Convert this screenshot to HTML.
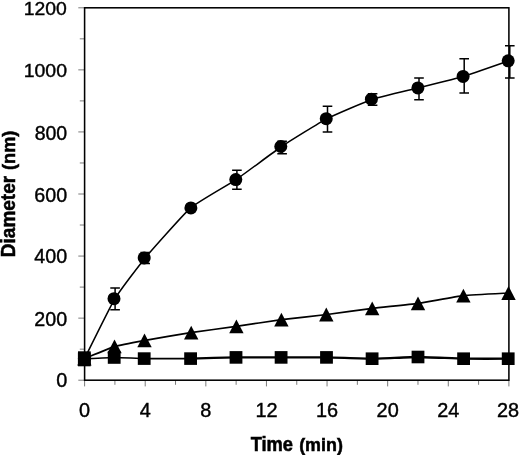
<!DOCTYPE html>
<html><head><meta charset="utf-8"><title>Chart</title>
<style>html,body{margin:0;padding:0;background:#fff}svg{display:block}</style></head>
<body>
<svg width="520" height="455" viewBox="0 0 520 455">
<rect width="520" height="455" fill="#fff"/>
<g stroke="#000" fill="none">
<g stroke-width="0.65" stroke="#333">
<line x1="78.30" y1="380.20" x2="84.60" y2="380.20"/>
<line x1="79.80" y1="349.17" x2="84.60" y2="349.17"/>
<line x1="78.30" y1="318.13" x2="84.60" y2="318.13"/>
<line x1="79.80" y1="287.10" x2="84.60" y2="287.10"/>
<line x1="78.30" y1="256.07" x2="84.60" y2="256.07"/>
<line x1="79.80" y1="225.03" x2="84.60" y2="225.03"/>
<line x1="78.30" y1="194.00" x2="84.60" y2="194.00"/>
<line x1="79.80" y1="162.97" x2="84.60" y2="162.97"/>
<line x1="78.30" y1="131.93" x2="84.60" y2="131.93"/>
<line x1="79.80" y1="100.90" x2="84.60" y2="100.90"/>
<line x1="78.30" y1="69.87" x2="84.60" y2="69.87"/>
<line x1="79.80" y1="38.83" x2="84.60" y2="38.83"/>
<line x1="78.30" y1="7.80" x2="84.60" y2="7.80"/>
<line x1="84.60" y1="380.20" x2="84.60" y2="386.40"/>
<line x1="114.91" y1="380.20" x2="114.91" y2="384.80"/>
<line x1="145.21" y1="380.20" x2="145.21" y2="386.40"/>
<line x1="175.52" y1="380.20" x2="175.52" y2="384.80"/>
<line x1="205.83" y1="380.20" x2="205.83" y2="386.40"/>
<line x1="236.14" y1="380.20" x2="236.14" y2="384.80"/>
<line x1="266.44" y1="380.20" x2="266.44" y2="386.40"/>
<line x1="296.75" y1="380.20" x2="296.75" y2="384.80"/>
<line x1="327.06" y1="380.20" x2="327.06" y2="386.40"/>
<line x1="357.36" y1="380.20" x2="357.36" y2="384.80"/>
<line x1="387.67" y1="380.20" x2="387.67" y2="386.40"/>
<line x1="417.98" y1="380.20" x2="417.98" y2="384.80"/>
<line x1="448.29" y1="380.20" x2="448.29" y2="386.40"/>
<line x1="478.59" y1="380.20" x2="478.59" y2="384.80"/>
<line x1="508.90" y1="380.20" x2="508.90" y2="386.40"/>
</g>
<rect x="84.60" y="7.80" width="424.30" height="372.40" stroke-width="1.55"/>
<path d="M84.60 358.60 C86.82 354.21 110.46 306.08 114.91 298.70 C119.35 291.32 139.66 264.56 145.21 257.90 C150.77 251.24 184.01 213.64 190.67 207.90 C197.34 202.16 229.47 184.10 236.14 179.60 C242.80 175.10 274.93 150.97 281.60 146.50 C288.26 142.03 320.39 122.12 327.06 118.65 C333.72 115.18 365.85 101.45 372.52 99.20 C379.19 96.95 411.31 89.57 417.98 87.90 C424.65 86.23 456.77 78.39 463.44 76.40 C470.11 74.41 505.57 61.94 508.90 60.80" stroke-width="1.55"/>
<path d="M84.60 358.60 C86.82 357.71 110.46 347.73 114.91 346.40 C119.35 345.07 139.66 341.41 145.21 340.40 C150.77 339.39 184.01 333.63 190.67 332.60 C197.34 331.57 229.47 327.35 236.14 326.40 C242.80 325.45 274.93 320.47 281.60 319.60 C288.26 318.73 320.39 315.33 327.06 314.50 C333.72 313.67 365.85 309.11 372.52 308.30 C379.19 307.49 411.31 304.33 417.98 303.40 C424.65 302.47 456.77 296.36 463.44 295.60 C470.11 294.84 505.57 293.19 508.90 293.00" stroke-width="1.7"/>
<path d="M84.60 358.80 C86.82 358.70 110.46 357.51 114.91 357.50 C119.35 357.49 139.66 358.52 145.21 358.60 C150.77 358.68 187.34 358.60 190.67 358.60" stroke-width="1.6"/>
<path d="M190.67 358.60 C194.01 358.51 229.47 357.49 236.14 357.40 C242.80 357.31 274.93 357.40 281.60 357.40 C288.26 357.40 320.39 357.30 327.06 357.40 C333.72 357.50 365.85 358.73 372.52 358.70 C379.19 358.67 411.31 357.00 417.98 357.00 C424.65 357.00 456.77 358.58 463.44 358.70 C470.11 358.82 505.57 358.70 508.90 358.70" stroke-width="2.3"/>
<g stroke-width="1.5">
<path d="M115.10 288.10 V309.80 M110.30 288.10 H119.90 M110.30 309.80 H119.90"/>
<path d="M145.20 252.40 V263.60 M140.40 252.40 H150.00 M140.40 263.60 H150.00"/>
<path d="M236.90 170.20 V189.20 M232.10 170.20 H241.70 M232.10 189.20 H241.70"/>
<path d="M282.10 141.20 V153.80 M277.30 141.20 H286.90 M277.30 153.80 H286.90"/>
<path d="M327.50 106.20 V132.10 M322.70 106.20 H332.30 M322.70 132.10 H332.30"/>
<path d="M372.60 93.70 V105.20 M367.80 93.70 H377.40 M367.80 105.20 H377.40"/>
<path d="M419.00 78.00 V99.70 M414.20 78.00 H423.80 M414.20 99.70 H423.80"/>
<path d="M464.20 58.80 V93.00 M459.40 58.80 H469.00 M459.40 93.00 H469.00"/>
<path d="M509.80 45.70 V78.00 M505.00 45.70 H514.60 M505.00 78.00 H514.60"/>
</g>
</g>
<g fill="#000">
<circle cx="84.40" cy="358.60" r="6.5"/>
<circle cx="114.00" cy="298.70" r="6.5"/>
<circle cx="144.20" cy="257.90" r="6.5"/>
<circle cx="190.90" cy="207.90" r="6.5"/>
<circle cx="235.80" cy="179.60" r="6.5"/>
<circle cx="280.80" cy="146.50" r="6.5"/>
<circle cx="326.25" cy="118.65" r="6.5"/>
<circle cx="371.40" cy="99.20" r="6.5"/>
<circle cx="417.90" cy="87.90" r="6.5"/>
<circle cx="463.10" cy="76.40" r="6.5"/>
<circle cx="508.20" cy="60.80" r="6.5"/>
<path d="M84.40 351.70 L91.60 365.50 L77.20 365.50 Z"/>
<path d="M114.50 339.50 L121.70 353.30 L107.30 353.30 Z"/>
<path d="M144.50 333.50 L151.70 347.30 L137.30 347.30 Z"/>
<path d="M191.20 325.70 L198.40 339.50 L184.00 339.50 Z"/>
<path d="M236.40 319.50 L243.60 333.30 L229.20 333.30 Z"/>
<path d="M281.40 312.70 L288.60 326.50 L274.20 326.50 Z"/>
<path d="M326.30 307.60 L333.50 321.40 L319.10 321.40 Z"/>
<path d="M372.20 301.40 L379.40 315.20 L365.00 315.20 Z"/>
<path d="M418.00 296.50 L425.20 310.30 L410.80 310.30 Z"/>
<path d="M463.40 288.70 L470.60 302.50 L456.20 302.50 Z"/>
<path d="M508.50 286.10 L515.70 299.90 L501.30 299.90 Z"/>
<rect x="77.90" y="352.50" width="12.8" height="12.6"/>
<rect x="107.80" y="351.20" width="12.8" height="12.6"/>
<rect x="137.80" y="352.30" width="12.8" height="12.6"/>
<rect x="184.20" y="352.30" width="12.8" height="12.6"/>
<rect x="229.60" y="351.10" width="12.8" height="12.6"/>
<rect x="274.70" y="351.10" width="12.8" height="12.6"/>
<rect x="320.10" y="351.10" width="12.8" height="12.6"/>
<rect x="365.70" y="352.40" width="12.8" height="12.6"/>
<rect x="411.60" y="350.70" width="12.8" height="12.6"/>
<rect x="457.20" y="352.40" width="12.8" height="12.6"/>
<rect x="501.80" y="352.40" width="12.8" height="12.6"/>
<rect x="78.0" y="351.3" width="12.7" height="15.0"/>
</g>
<g font-family="'Liberation Sans', Arial, sans-serif" fill="#000" stroke="#000" stroke-width="0.4">
<text transform="translate(67.30,387.10) scale(1.020,1)" font-size="19.5" text-anchor="end">0</text>
<text transform="translate(67.20,325.83) scale(1.010,1)" font-size="19.5" text-anchor="end">200</text>
<text transform="translate(67.20,262.97) scale(1.010,1)" font-size="19.5" text-anchor="end">400</text>
<text transform="translate(67.20,202.20) scale(1.010,1)" font-size="19.5" text-anchor="end">600</text>
<text transform="translate(67.20,140.23) scale(1.000,1)" font-size="19.5" text-anchor="end">800</text>
<text transform="translate(67.00,77.17) scale(1.035,1)" font-size="18.8" text-anchor="end">1000</text>
<text transform="translate(66.80,15.00) scale(1.020,1)" font-size="19.0" text-anchor="end">1200</text>
<text transform="translate(84.60,416.6) scale(1.03,1)" font-size="19.3" text-anchor="middle">0</text>
<text transform="translate(145.21,416.6) scale(1.03,1)" font-size="19.3" text-anchor="middle">4</text>
<text transform="translate(205.83,416.6) scale(1.03,1)" font-size="19.3" text-anchor="middle">8</text>
<text transform="translate(266.44,416.6) scale(1.03,1)" font-size="19.3" text-anchor="middle">12</text>
<text transform="translate(327.06,416.6) scale(1.03,1)" font-size="19.3" text-anchor="middle">16</text>
<text transform="translate(387.67,416.6) scale(1.03,1)" font-size="19.3" text-anchor="middle">20</text>
<text transform="translate(448.29,416.6) scale(1.03,1)" font-size="19.3" text-anchor="middle">24</text>
<text transform="translate(508.00,416.6) scale(1.03,1)" font-size="19.3" text-anchor="middle">28</text>
</g>
<g font-family="'Liberation Sans', Arial, sans-serif" font-weight="bold" fill="#000" stroke="#000" stroke-width="0.5">
<text transform="translate(250.65,450.85) scale(1,1.06)" font-size="18.3">Time <tspan x="48.51" font-size="17.9">(min)</tspan></text>
<text transform="translate(14.8,257.15) rotate(-90) scale(1,1.035)" font-size="19">Diameter <tspan x="87.12" font-size="18.2">(nm)</tspan></text>
</g>
</svg>
</body></html>
